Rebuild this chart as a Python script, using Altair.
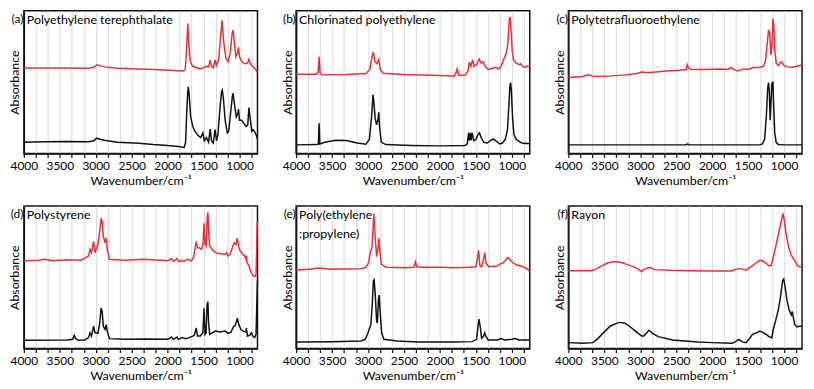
import altair as alt
import pandas as pd

# ---------------- data (wavenumber / cm-1, relative absorbance 0..1 of panel height) -------------
a_red_wn = [4000, 3500, 3100, 3030, 2985, 2940, 2880, 2700, 2400, 2100, 1850, 1780, 1755, 1735, 1720, 1705, 1685, 1650,
            1550, 1505, 1470, 1430, 1408, 1390, 1365, 1340, 1320, 1290, 1265, 1243, 1222, 1190, 1160, 1130, 1105, 1090,
            1070, 1050, 1030, 1015, 1000, 970, 930, 890, 870, 850, 810, 780, 750]
a_red_ab = [0.600, 0.600, 0.598, 0.604, 0.622, 0.616, 0.607, 0.598, 0.593, 0.587, 0.580, 0.578, 0.589, 0.744, 0.911, 0.767,
            0.644, 0.611, 0.593, 0.600, 0.611, 0.607, 0.656, 0.611, 0.600, 0.656, 0.616, 0.656, 0.811, 0.933, 0.789, 0.667,
            0.644, 0.700, 0.833, 0.867, 0.767, 0.678, 0.700, 0.744, 0.678, 0.644, 0.629, 0.633, 0.660, 0.629, 0.607,
            0.593, 0.567]
a_blk_wn = [4000, 3700, 3400, 3100, 3030, 2985, 2940, 2880, 2700, 2400, 2200, 2000, 1850, 1770, 1750, 1735, 1720, 1712,
            1700, 1680, 1650, 1620, 1580, 1540, 1510, 1490, 1460, 1430, 1408, 1390, 1365, 1340, 1320, 1300, 1275, 1250,
            1240, 1225, 1200, 1170, 1150, 1125, 1100, 1090, 1070, 1045, 1025, 1015, 1000, 970, 940, 910, 885, 870, 855,
            830, 815, 795, 770, 750]
a_blk_ab = [0.078, 0.082, 0.084, 0.082, 0.089, 0.107, 0.100, 0.093, 0.078, 0.071, 0.062, 0.056, 0.049, 0.042, 0.078, 0.278,
            0.433, 0.467, 0.411, 0.256, 0.189, 0.156, 0.127, 0.111, 0.144, 0.089, 0.111, 0.078, 0.171, 0.089, 0.073, 0.167,
            0.089, 0.133, 0.300, 0.433, 0.444, 0.389, 0.233, 0.144, 0.156, 0.278, 0.400, 0.422, 0.344, 0.256, 0.278, 0.311,
            0.233, 0.233, 0.211, 0.189, 0.200, 0.322, 0.256, 0.156, 0.167, 0.156, 0.133, 0.100]

b_red_wn = [4000, 3720, 3695, 3680, 3668, 3640, 3300, 3030, 2975, 2945, 2925, 2905, 2875, 2850, 2830, 2790, 2500, 2100,
            1800, 1775, 1760, 1740, 1650, 1610, 1590, 1570, 1545, 1525, 1480, 1455, 1425, 1400, 1370, 1330, 1280, 1230,
            1180, 1150, 1115, 1080, 1055, 1040, 1032, 1022, 1010, 995, 975, 940, 900, 875, 850, 815, 780, 750]
b_red_ab = [0.556, 0.556, 0.567, 0.678, 0.567, 0.551, 0.553, 0.560, 0.589, 0.678, 0.711, 0.644, 0.629, 0.660, 0.589, 0.562,
            0.553, 0.549, 0.544, 0.567, 0.593, 0.549, 0.549, 0.578, 0.640, 0.611, 0.656, 0.611, 0.629, 0.662, 0.633, 0.644,
            0.611, 0.589, 0.596, 0.604, 0.593, 0.611, 0.656, 0.700, 0.767, 0.900, 0.944, 0.956, 0.867, 0.722, 0.656, 0.633,
            0.622, 0.629, 0.611, 0.604, 0.613, 0.613]
b_blk_wn = [4000, 3720, 3690, 3680, 3670, 3600, 3450, 3300, 3150, 3030, 2980, 2950, 2930, 2920, 2900, 2880, 2860, 2850,
            2840, 2815, 2750, 2400, 2000, 1650, 1620, 1600, 1590, 1575, 1565, 1550, 1530, 1500, 1470, 1450, 1425, 1390,
            1340, 1280, 1250, 1210, 1170, 1130, 1090, 1060, 1040, 1025, 1015, 1005, 990, 970, 940, 900, 860, 800, 750]
b_blk_ab = [0.060, 0.062, 0.067, 0.211, 0.067, 0.078, 0.093, 0.091, 0.073, 0.064, 0.100, 0.260, 0.411, 0.367, 0.244, 0.200,
            0.244, 0.289, 0.189, 0.078, 0.062, 0.056, 0.053, 0.056, 0.067, 0.144, 0.089, 0.144, 0.093, 0.144, 0.089, 0.096,
            0.133, 0.144, 0.111, 0.078, 0.073, 0.096, 0.100, 0.084, 0.067, 0.073, 0.100, 0.167, 0.344, 0.478, 0.496, 0.433,
            0.256, 0.133, 0.100, 0.084, 0.073, 0.069, 0.069]

c_red_wn = [4000, 3800, 3720, 3680, 3600, 3400, 3200, 3050, 2980, 2920, 2850, 2650, 2450, 2360, 2345, 2330, 2300, 2100,
            1900, 1780, 1740, 1700, 1650, 1570, 1500, 1430, 1350, 1290, 1260, 1235, 1215, 1200, 1182, 1170, 1155, 1143,
            1130, 1110, 1080, 1045, 1025, 1000, 950, 880, 820, 750]
c_red_ab = [0.533, 0.540, 0.553, 0.544, 0.540, 0.544, 0.551, 0.560, 0.571, 0.567, 0.567, 0.578, 0.584, 0.589, 0.622, 0.600,
            0.589, 0.589, 0.593, 0.589, 0.604, 0.589, 0.578, 0.593, 0.589, 0.602, 0.602, 0.611, 0.644, 0.767, 0.867, 0.844,
            0.689, 0.744, 0.944, 0.900, 0.733, 0.633, 0.616, 0.642, 0.638, 0.616, 0.607, 0.604, 0.611, 0.622]
c_blk_wn = [4000, 3000, 2360, 2340, 2320, 1340, 1300, 1270, 1245, 1228, 1215, 1205, 1193, 1183, 1170, 1155, 1145, 1130,
            1110, 1080, 1000, 750]
c_blk_ab = [0.060, 0.060, 0.060, 0.067, 0.060, 0.060, 0.067, 0.100, 0.278, 0.456, 0.496, 0.433, 0.233, 0.344, 0.489, 0.504,
            0.344, 0.144, 0.078, 0.062, 0.060, 0.060]

d_red_wn = [4000, 3800, 3700, 3600, 3400, 3200, 3140, 3100, 3080, 3060, 3030, 3010, 2970, 2945, 2925, 2910, 2895, 2870,
            2855, 2840, 2810, 2600, 2330, 2100, 2000, 1945, 1915, 1870, 1850, 1800, 1775, 1730, 1670, 1640, 1620, 1602,
            1585, 1560, 1530, 1510, 1493, 1480, 1465, 1450, 1440, 1430, 1415, 1395, 1370, 1330, 1270, 1200, 1180, 1160,
            1130, 1100, 1075, 1050, 1030, 1015, 990, 960, 930, 910, 905, 895, 870, 840, 810, 785, 770, 762, 755, 750]
d_red_ab = [0.615, 0.619, 0.626, 0.615, 0.622, 0.619, 0.638, 0.649, 0.695, 0.672, 0.752, 0.672, 0.729, 0.821, 0.913, 0.890,
            0.787, 0.741, 0.775, 0.695, 0.626, 0.619, 0.626, 0.619, 0.615, 0.631, 0.610, 0.631, 0.610, 0.619, 0.610, 0.626,
            0.615, 0.638, 0.695, 0.752, 0.706, 0.706, 0.695, 0.729, 0.878, 0.729, 0.718, 0.913, 0.954, 0.821, 0.718, 0.706,
            0.688, 0.672, 0.665, 0.661, 0.672, 0.649, 0.661, 0.706, 0.741, 0.729, 0.775, 0.718, 0.683, 0.665, 0.649, 0.626,
            0.649, 0.603, 0.580, 0.534, 0.511, 0.505, 0.524, 0.683, 0.878, 0.890]
d_blk_wn = [4000, 3400, 3320, 3300, 3280, 3240, 3150, 3100, 3080, 3060, 3030, 3010, 2970, 2945, 2925, 2910, 2895, 2870,
            2855, 2840, 2810, 2600, 2300, 2000, 1945, 1920, 1870, 1850, 1800, 1750, 1700, 1650, 1630, 1602, 1585, 1545,
            1510, 1493, 1480, 1465, 1452, 1440, 1430, 1415, 1380, 1330, 1270, 1200, 1160, 1120, 1080, 1060, 1030, 1010,
            980, 950, 910, 905, 890, 860, 835, 815, 790, 770, 758, 750]
d_blk_ab = [0.057, 0.060, 0.064, 0.092, 0.069, 0.057, 0.060, 0.076, 0.110, 0.087, 0.156, 0.110, 0.106, 0.179, 0.282, 0.259,
            0.156, 0.133, 0.167, 0.122, 0.069, 0.064, 0.067, 0.064, 0.080, 0.064, 0.080, 0.064, 0.076, 0.069, 0.076, 0.087,
            0.092, 0.144, 0.087, 0.087, 0.110, 0.282, 0.099, 0.110, 0.305, 0.328, 0.179, 0.099, 0.110, 0.122, 0.115, 0.122,
            0.106, 0.115, 0.156, 0.161, 0.213, 0.167, 0.133, 0.122, 0.115, 0.144, 0.087, 0.092, 0.110, 0.087, 0.076, 0.099,
            0.339, 0.477]

e_red_wn = [4000, 3800, 3700, 3500, 3100, 3030, 2990, 2965, 2945, 2930, 2918, 2905, 2880, 2860, 2848, 2835, 2815, 2750,
            2500, 2360, 2340, 2320, 2250, 2000, 1800, 1600, 1500, 1480, 1462, 1445, 1420, 1395, 1375, 1360, 1320, 1200,
            1160, 1120, 1090, 1060, 1030, 990, 940, 880, 820, 780, 750]
e_red_ab = [0.550, 0.555, 0.564, 0.555, 0.560, 0.569, 0.603, 0.683, 0.706, 0.844, 0.947, 0.817, 0.644, 0.706, 0.775, 0.683,
            0.592, 0.569, 0.567, 0.569, 0.608, 0.573, 0.569, 0.569, 0.567, 0.569, 0.573, 0.626, 0.688, 0.585, 0.573, 0.626,
            0.672, 0.600, 0.573, 0.578, 0.594, 0.601, 0.617, 0.638, 0.626, 0.603, 0.587, 0.578, 0.569, 0.555, 0.541]
e_blk_wn = [4000, 3500, 3100, 3040, 3000, 2960, 2940, 2925, 2915, 2900, 2880, 2870, 2855, 2845, 2830, 2810, 2780, 2600,
            2300, 1800, 1550, 1490, 1470, 1455, 1440, 1420, 1395, 1378, 1360, 1330, 1200, 1150, 1100, 1000, 950, 900, 750]
e_blk_ab = [0.046, 0.048, 0.053, 0.064, 0.110, 0.167, 0.317, 0.477, 0.482, 0.385, 0.190, 0.179, 0.339, 0.374, 0.248, 0.110,
            0.064, 0.053, 0.046, 0.046, 0.048, 0.064, 0.156, 0.206, 0.156, 0.073, 0.085, 0.110, 0.087, 0.060, 0.060, 0.069,
            0.060, 0.064, 0.069, 0.060, 0.060]

f_red_wn = [4000, 3700, 3640, 3560, 3450, 3350, 3250, 3150, 3050, 2985, 2940, 2870, 2800, 2600, 2300, 2000, 1720, 1680,
            1620, 1530, 1460, 1400, 1340, 1300, 1260, 1210, 1180, 1140, 1100, 1060, 1030, 1015, 995, 970, 940, 905, 880,
            850, 820, 790, 750]
f_red_ab = [0.546, 0.546, 0.550, 0.573, 0.601, 0.610, 0.601, 0.583, 0.564, 0.539, 0.557, 0.569, 0.553, 0.548, 0.546, 0.544,
            0.544, 0.555, 0.560, 0.550, 0.573, 0.596, 0.619, 0.615, 0.601, 0.580, 0.580, 0.661, 0.752, 0.844, 0.913, 0.947,
            0.890, 0.798, 0.718, 0.661, 0.638, 0.615, 0.587, 0.573, 0.573]
f_blk_wn = [4000, 3800, 3660, 3600, 3520, 3420, 3300, 3220, 3150, 3050, 2980, 2950, 2880, 2830, 2750, 2550, 2200, 2000,
            1720, 1680, 1630, 1580, 1530, 1480, 1440, 1380, 1340, 1300, 1250, 1210, 1170, 1150, 1120, 1080, 1050, 1020,
            1005, 985, 960, 930, 900, 885, 870, 850, 820, 790, 750]
f_blk_ab = [0.041, 0.037, 0.041, 0.064, 0.106, 0.156, 0.183, 0.179, 0.156, 0.115, 0.087, 0.087, 0.128, 0.106, 0.083, 0.060,
            0.046, 0.041, 0.037, 0.046, 0.064, 0.046, 0.041, 0.069, 0.099, 0.110, 0.122, 0.115, 0.099, 0.083, 0.076, 0.133,
            0.190, 0.271, 0.362, 0.477, 0.488, 0.431, 0.339, 0.271, 0.236, 0.259, 0.213, 0.167, 0.151, 0.156, 0.156]

panel_tags = ["(a)", "(b)", "(c)", "(d)", "(e)", "(f)"]
panel_names = ["Polyethylene terephthalate", "Chlorinated polyethylene", "Polytetrafluoroethylene",
               "Polystyrene", "Poly(ethylene\n:propylene)", "Rayon"]
major_ticks = [4000, 3500, 3000, 2500, 2000, 1500, 1000]
x_title = "Wavenumber/cm\u207b\u00b9"
y_title = "Absorbance"

traces = [
    (a_red_wn, a_red_ab, a_blk_wn, a_blk_ab),
    (b_red_wn, b_red_ab, b_blk_wn, b_blk_ab),
    (c_red_wn, c_red_ab, c_blk_wn, c_blk_ab),
    (d_red_wn, d_red_ab, d_blk_wn, d_blk_ab),
    (e_red_wn, e_red_ab, e_blk_wn, e_blk_ab),
    (f_red_wn, f_red_ab, f_blk_wn, f_blk_ab),
]

# ---------------- styling ----------------
FONT = "Lato"
RED = "#e8303a"
BLACK = "#111111"
W = 236
H = 144

tick_vals = []
for m in major_ticks:
    tick_vals += [m, m - 500 / 3, m - 1000 / 3]
tick_vals = [t for t in tick_vals if t >= 760]


def panel(i):
    rwn, rab, bwn, bab = traces[i]
    df = pd.DataFrame({
        "wn": list(rwn) + list(bwn),
        "ab": list(rab) + list(bab),
        "series": ["red"] * len(rwn) + ["black"] * len(bwn),
        "idx": list(range(len(rwn))) + list(range(len(bwn))),
    })
    lines = alt.Chart(df).mark_line(strokeWidth=1.5).encode(
        x=alt.X("wn:Q",
                scale=alt.Scale(domain=[750, 4000], reverse=True, nice=False, zero=False),
                axis=alt.Axis(values=tick_vals, title=x_title, grid=True, gridColor="#dadada", gridWidth=1,
                              labelExpr="datum.value % 500 == 0 ? datum.label : ''", labelOverlap=False,
                              labelFlush=False, format="d", tickSize=4, labelPadding=3, titlePadding=3)),
        y=alt.Y("ab:Q", scale=alt.Scale(domain=[0, 1], nice=False, zero=False),
                axis=alt.Axis(title=y_title, labels=False, ticks=False, grid=False, titlePadding=2)),
        color=alt.Color("series:N", scale=alt.Scale(domain=["red", "black"], range=[RED, BLACK]), legend=None),
        detail="series:N",
        order="idx:Q",
    )
    tag = alt.Chart(pd.DataFrame({"t": [panel_tags[i]]})).mark_text(
        align="right", baseline="top", font=FONT, fontSize=12, color="black"
    ).encode(x=alt.value(-0.5), y=alt.value(3), text="t:N")
    name = alt.Chart(pd.DataFrame({"t": [panel_names[i]]})).mark_text(
        align="left", baseline="top", font=FONT, fontSize=12.5, color="black", lineBreak="\n", lineHeight=19
    ).encode(x=alt.value(3), y=alt.value(3), text="t:N")
    return alt.layer(lines, tag, name).properties(width=W, height=H)


chart = alt.concat(
    *[panel(i) for i in range(6)], columns=3, spacing={"row": 53, "column": 39}, bounds="flush"
).properties(padding=0).configure_view(
    stroke=BLACK, strokeWidth=1.5
).configure_axis(
    labelFont=FONT, titleFont=FONT, labelFontSize=12, titleFontSize=12.5, titleFontWeight="normal",
    labelColor="black", titleColor="black", domainColor=BLACK, domainWidth=1.5, tickColor=BLACK, tickWidth=1.2
)

chart.save("out.html", embed_options={"renderer": "svg", "actions": False})
